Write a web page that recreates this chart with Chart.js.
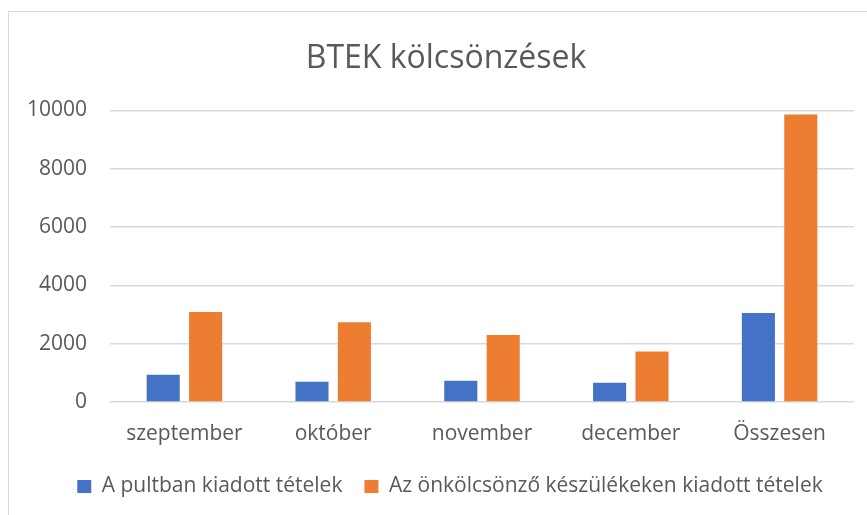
<!DOCTYPE html>
<html>
<head>
<meta charset="utf-8">
<script src="https://cdn.jsdelivr.net/npm/chart.js@4/dist/chart.umd.min.js"></script>
<style>
  html, body { margin: 0; padding: 0; background: #fff; overflow: hidden; }
  #wrap { position: relative; width: 867px; height: 515px; }
  #frame { position: absolute; left: 8px; top: 11px; width: 900px; height: 600px; border: 1.5px solid #d9d9d9; pointer-events: none; }
  canvas { position: absolute; left: 0; top: 0; }
</style>
</head>
<body>
<div id="wrap">
  <div id="frame"></div>
  <canvas id="barChart" width="867" height="515"></canvas>
</div>
<script>
const categories = ['szeptember', 'október', 'november', 'december', 'Összesen'];
const seriesNames = ['A pultban kiadott tételek', 'Az önkölcsönző készülékeken kiadott tételek'];
const pultValues = [936, 693, 728, 659, 3048];
const onkolcsonzoValues = [3085, 2738, 2298, 1733, 9862];
const yTicks = [0, 2000, 4000, 6000, 8000, 10000];

const textColor = '#595959';
const fontFamily = "'Open Sans', sans-serif";

// title and legend sit a bit right of the canvas centre in the original
const shiftBoxes = {
    id: 'shiftBoxes',
    afterLayout(chart) {
        chart.titleBlock.left += 9;
        chart.titleBlock.right += 9;
        chart.legend.left += 13;
        chart.legend.right += 13;
    }
};

const ctx = document.getElementById('barChart').getContext('2d');
const chart = new Chart(ctx, {
    type: 'bar',
    data: {
        labels: categories,
        datasets: [{
            label: seriesNames[0],
            data: pultValues,
            backgroundColor: '#4472C4',
            categoryPercentage: 0.57,
            barPercentage: 0.78
        }, {
            label: seriesNames[1],
            data: onkolcsonzoValues,
            backgroundColor: '#ED7D31',
            categoryPercentage: 0.57,
            barPercentage: 0.78
        }]
    },
    options: {
        responsive: false,
        animation: false,
        layout: { padding: { left: 20, right: 13, top: 0, bottom: 8 } },
        plugins: {
            title: {
                display: true,
                text: 'BTEK kölcsönzések',
                color: textColor,
                font: { family: fontFamily, size: 32, weight: 'normal' },
                padding: { top: 40, bottom: 32 }
            },
            legend: {
                position: 'bottom',
                labels: {
                    color: textColor,
                    font: { family: fontFamily, size: 21 },
                    boxWidth: 14,
                    boxHeight: 13,
                    padding: 22
                }
            },
            tooltip: { enabled: false }
        },
        scales: {
            x: {
                grid: { display: false },
                border: { display: false },
                ticks: { color: textColor, font: { family: fontFamily, size: 21 }, padding: 11 },
                afterFit: s => { s.height = 52; }
            },
            y: {
                min: 0,
                max: 10000,
                afterBuildTicks: s => { s.ticks = yTicks.map(v => ({ value: v })); },
                grid: { color: '#d9d9d9', lineWidth: 1.5, drawTicks: false },
                border: { display: false },
                ticks: {
                    color: textColor,
                    font: { family: fontFamily, size: 21 },
                    padding: 23,
                    callback: v => String(v)
                },
                afterFit: s => { s.width = 90; }
            }
        }
    },
    plugins: [shiftBoxes]
});
</script>
</body>
</html>
